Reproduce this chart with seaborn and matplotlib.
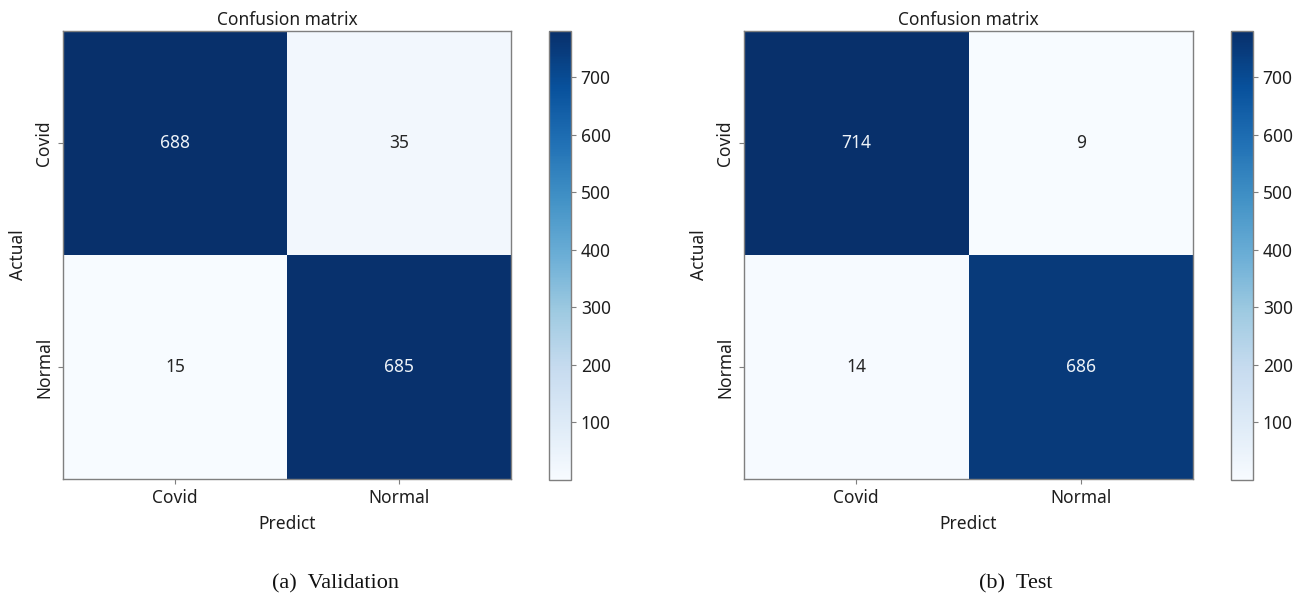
import numpy as np
import matplotlib
matplotlib.use("Agg")
import matplotlib.pyplot as plt
import matplotlib.colors as mcolors
import matplotlib.cm as cm
import seaborn as sns

# Class labels and confusion-matrix counts (rows = actual, columns = predicted)
classes = ["Covid", "Normal"]
val_counts = [[688, 35], [15, 685]]
test_counts = [[714, 9], [14, 686]]
captions = ["(a)  Validation", "(b)  Test"]

# Range shown on the colour scales
cbar_min, cbar_max = 0, 780
cbar_ticks = [100, 200, 300, 400, 500, 600, 700]

sns.set_theme(style="white")
plt.rcParams["font.family"] = ["Noto Sans", "DejaVu Sans"]

W, H = 1306, 596
fig = plt.figure(figsize=(W / 100, H / 100), dpi=100)

def fx(px):
    return px / W

def fy(py):
    return 1 - py / H

panels = [
    (val_counts, 63, 511, 549, 571, 335, captions[0]),
    (test_counts, 744, 1193, 1231, 1253, 1016, captions[1]),
]
top, bottom = 31, 479
edge = "#7f7f7f"
txt = "#1e1e1e"

for counts, x0, x1, c0, c1, cap_x, caption in panels:
    data = np.array(counts)
    ax = fig.add_axes([fx(x0), fy(bottom), fx(x1 - x0), (bottom - top) / H])
    sns.heatmap(data, ax=ax, cmap="Blues", annot=True, fmt="d", cbar=False,
                vmin=data.min(), vmax=data.max(),
                xticklabels=classes, yticklabels=classes,
                annot_kws={"fontsize": 12.5})
    for t in ax.texts:
        if t.get_color() in ("w", "white", (1, 1, 1, 1)):
            t.set_color("#eef3f8")
    for s in ax.spines.values():
        s.set_visible(True)
        s.set_color(edge)
        s.set_linewidth(1.0)
    ax.set_title("Confusion matrix", fontsize=12.5, color=txt, pad=4)
    ax.set_xlabel("Predict", fontsize=12.5, color=txt, labelpad=6)
    ax.set_ylabel("Actual", fontsize=12.5, color=txt, labelpad=6)
    ax.tick_params(axis="both", which="major", labelsize=12.5, colors=txt,
                   length=3.5, width=0.8, color=edge, left=True, bottom=True)
    ax.set_yticklabels(classes, rotation=90, va="center")
    ax.set_xticklabels(classes, rotation=0)

    cax = fig.add_axes([fx(c0), fy(480), fx(c1 - c0), (480 - top) / H])
    sm = cm.ScalarMappable(norm=mcolors.Normalize(cbar_min, cbar_max), cmap="Blues")
    cb = fig.colorbar(sm, cax=cax, ticks=cbar_ticks)
    cb.outline.set_edgecolor(edge)
    cb.outline.set_linewidth(1.0)
    cax.tick_params(labelsize=12.5, colors=txt, length=3.5, width=0.8, color=edge)

    fig.text(fx(cap_x), fy(584), caption, ha="center", va="center",
             fontsize=16, family="Liberation Serif", color="#111111")

fig.savefig("out.png", dpi=100)
